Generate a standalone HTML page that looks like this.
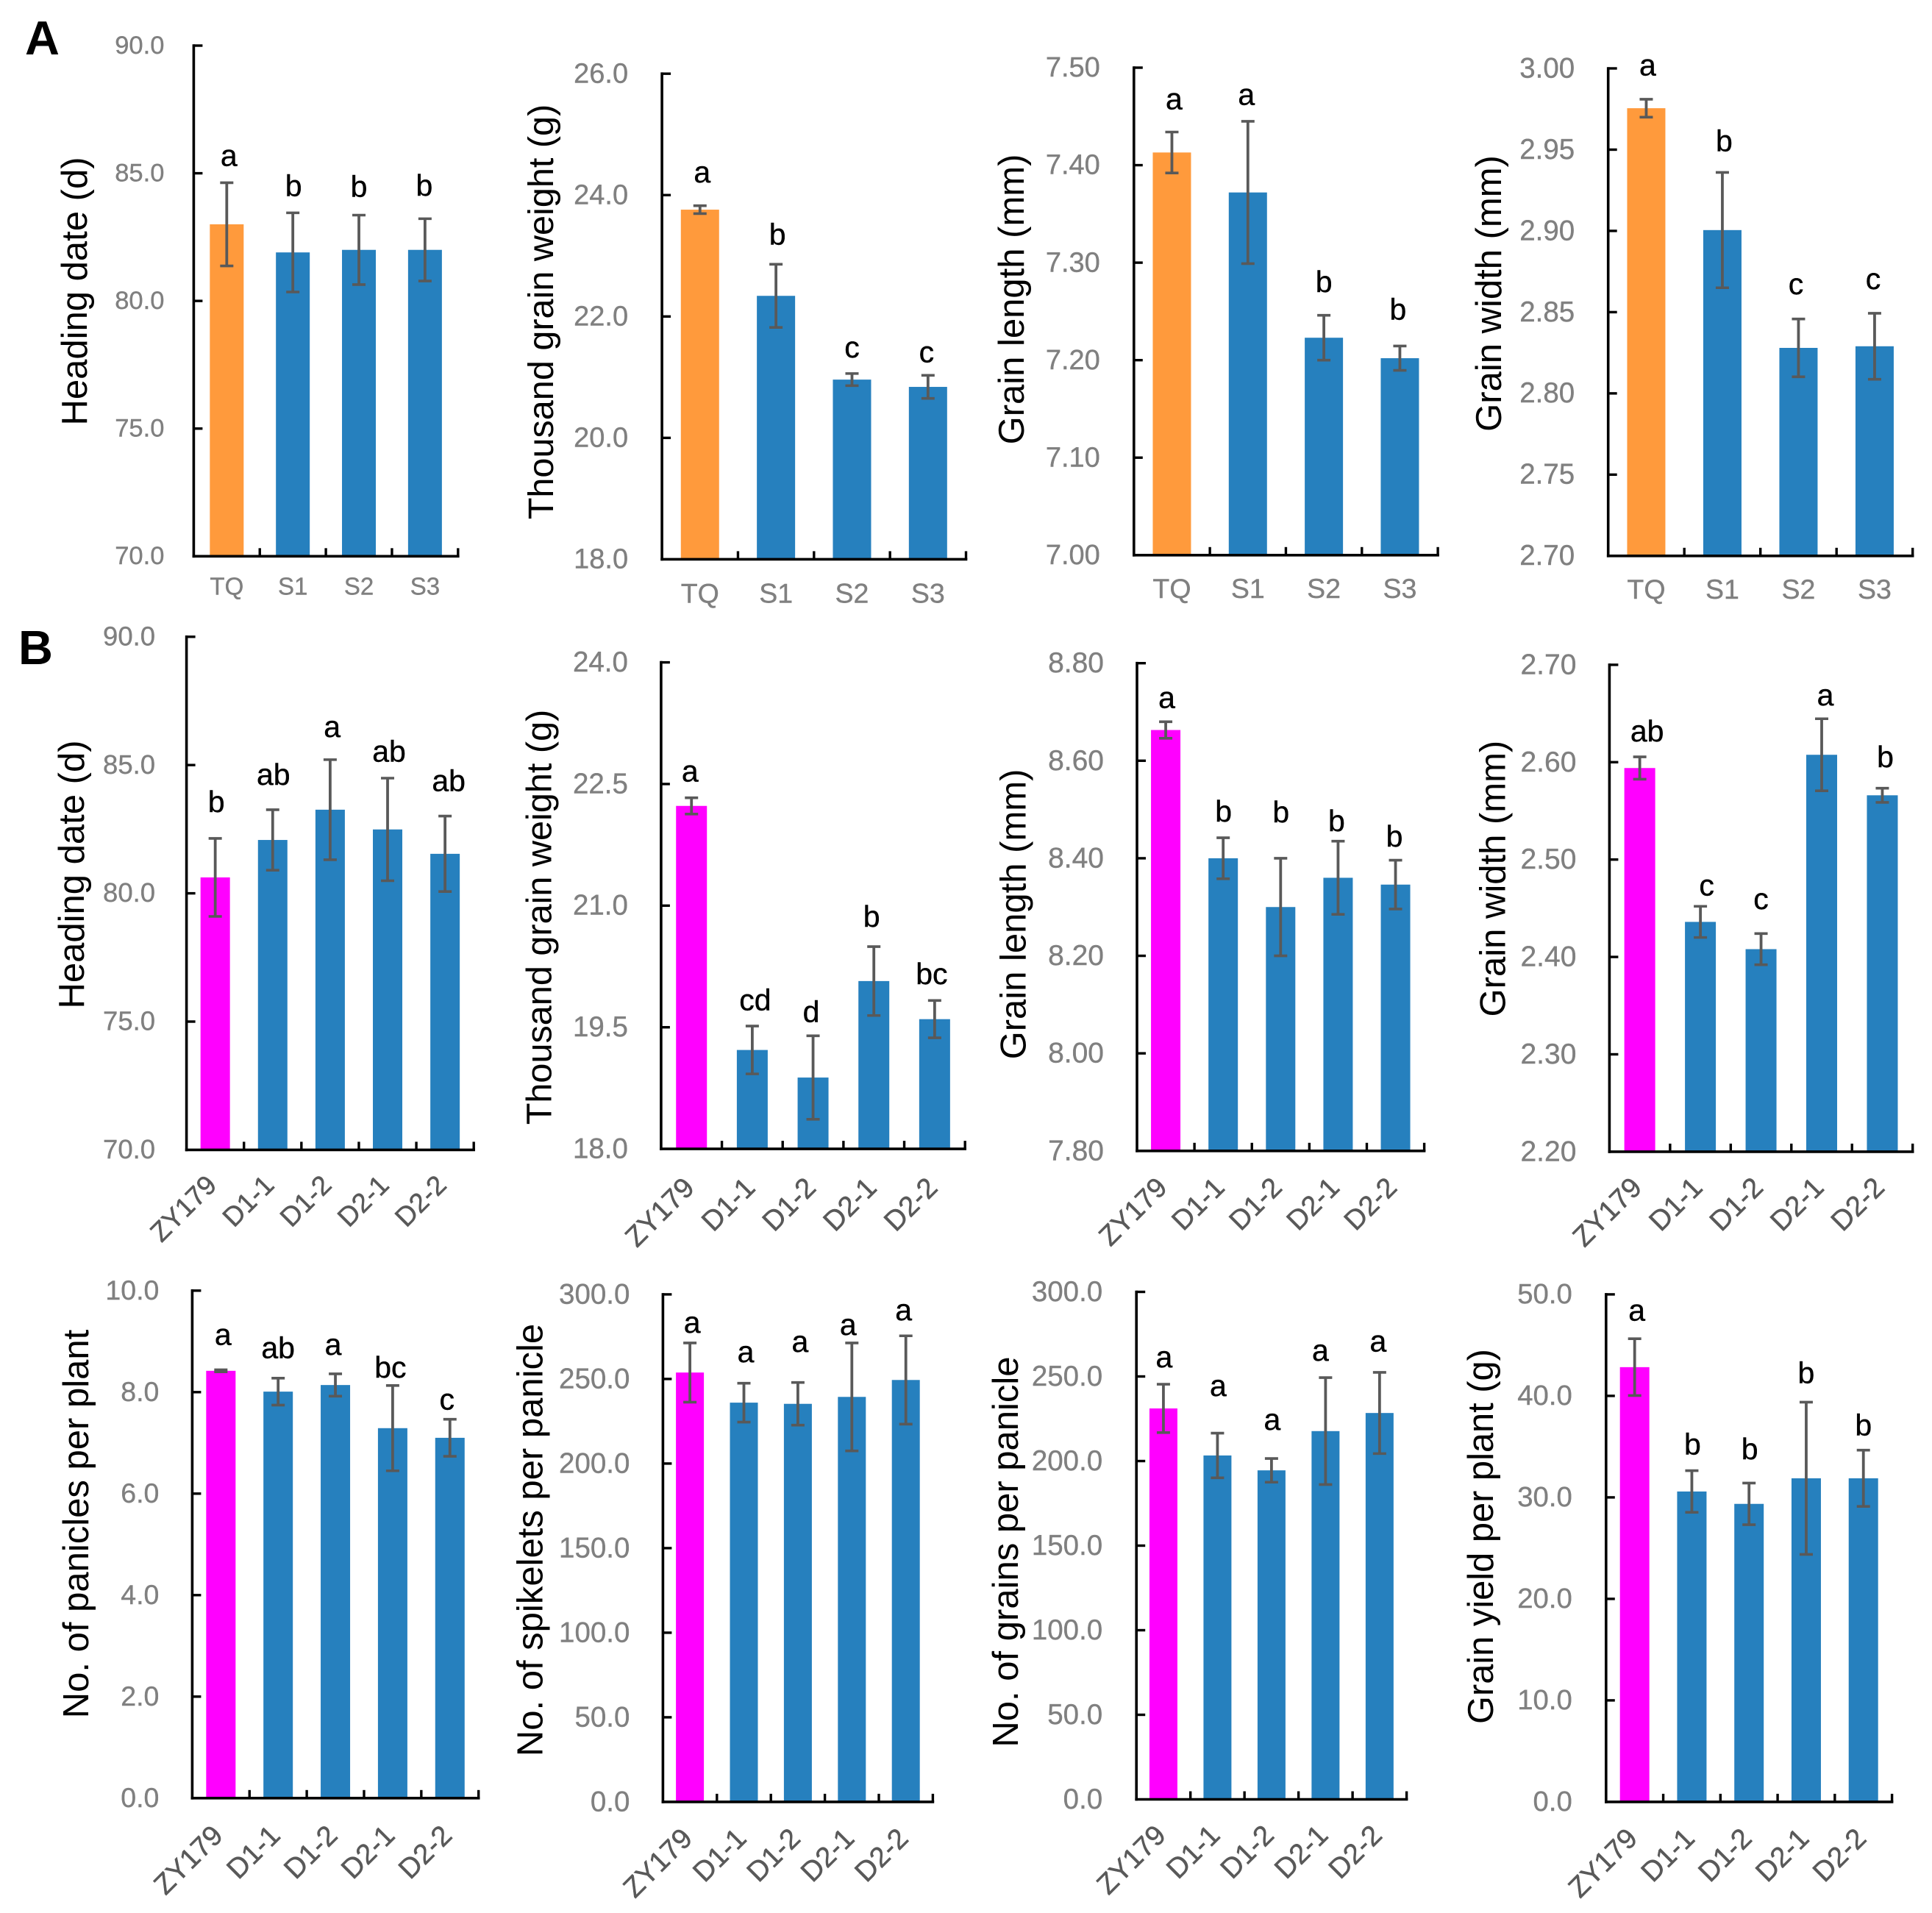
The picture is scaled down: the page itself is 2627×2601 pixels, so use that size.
<!DOCTYPE html>
<html lang="en">
<head>
<meta charset="utf-8">
<title>Heading date and grain traits bar charts</title>
<style>
  html, body { margin: 0; padding: 0; background: #fff; }
  svg { display: block; font-family: "Liberation Sans", Arial, sans-serif; }
</style>
</head>
<body>
<svg id="figure" xmlns="http://www.w3.org/2000/svg" width="2627" height="2601" viewBox="0 0 2627 2601">
  <rect x="0" y="0" width="2627" height="2601" fill="#ffffff"/>
  <text x="34" y="74" font-size="65" font-weight="700" fill="#000">A</text>
  <text x="25" y="903" font-size="65" font-weight="700" fill="#000">B</text>
</svg>
<script>
// ---------- categories ----------
const sampleCategories = ["TQ", "S1", "S2", "S3"];
const lineCategories = ["ZY179", "D1-1", "D1-2", "D2-1", "D2-2"];

// ---------- row A: heading date ----------
const aHeadingTicks = ["70.0", "75.0", "80.0", "85.0", "90.0"];
const aHeadingValues = [83.0, 81.9, 82.0, 82.0];
const aHeadingErrors = [1.63, 1.55, 1.36, 1.22];
const aHeadingLetters = ["a", "b", "b", "b"];

// ---------- row A: thousand grain weight ----------
const aWeightTicks = ["18.0", "20.0", "22.0", "24.0", "26.0"];
const aWeightValues = [23.76, 22.34, 20.96, 20.84];
const aWeightErrors = [0.065, 0.52, 0.10, 0.19];
const aWeightLetters = ["a", "b", "c", "c"];

// ---------- row A: grain length ----------
const aLengthTicks = ["7.00", "7.10", "7.20", "7.30", "7.40", "7.50"];
const aLengthValues = [7.413, 7.372, 7.223, 7.202];
const aLengthErrors = [0.021, 0.073, 0.023, 0.0125];
const aLengthLetters = ["a", "a", "b", "b"];

// ---------- row A: grain width ----------
const aWidthTicks = ["2.70", "2.75", "2.80", "2.85", "2.90", "2.95", "3.00"];
const aWidthValues = [2.9755, 2.9005, 2.828, 2.829];
const aWidthErrors = [0.0055, 0.0355, 0.0178, 0.0203];
const aWidthLetters = ["a", "b", "c", "c"];

// ---------- row B: heading date ----------
const bHeadingTicks = ["70.0", "75.0", "80.0", "85.0", "90.0"];
const bHeadingValues = [80.62, 82.08, 83.26, 82.49, 81.54];
const bHeadingErrors = [1.52, 1.18, 1.95, 2.0, 1.47];
const bHeadingLetters = ["b", "ab", "a", "ab", "ab"];

// ---------- row B: thousand grain weight ----------
const bWeightTicks = ["18.0", "19.5", "21.0", "22.5", "24.0"];
const bWeightValues = [22.23, 19.22, 18.88, 20.07, 19.6];
const bWeightErrors = [0.10, 0.295, 0.515, 0.425, 0.23];
const bWeightLetters = ["a", "cd", "d", "b", "bc"];

// ---------- row B: grain length ----------
const bLengthTicks = ["7.80", "8.00", "8.20", "8.40", "8.60", "8.80"];
const bLengthValues = [8.663, 8.40, 8.30, 8.36, 8.346];
const bLengthErrors = [0.017, 0.042, 0.10, 0.075, 0.05];
const bLengthLetters = ["a", "b", "b", "b", "b"];

// ---------- row B: grain width ----------
const bWidthTicks = ["2.20", "2.30", "2.40", "2.50", "2.60", "2.70"];
const bWidthValues = [2.594, 2.436, 2.408, 2.6076, 2.566];
const bWidthErrors = [0.0115, 0.016, 0.016, 0.037, 0.0073];
const bWidthLetters = ["ab", "c", "c", "a", "b"];

// ---------- row C: panicles per plant ----------
const cPaniclesTicks = ["0.0", "2.0", "4.0", "6.0", "8.0", "10.0"];
const cPaniclesValues = [8.42, 8.01, 8.14, 7.29, 7.10];
const cPaniclesErrors = [0.02, 0.265, 0.22, 0.84, 0.365];
const cPaniclesLetters = ["a", "ab", "a", "bc", "c"];

// ---------- row C: spikelets per panicle ----------
const cSpikeletsTicks = ["0.0", "50.0", "100.0", "150.0", "200.0", "250.0", "300.0"];
const cSpikeletsValues = [253.8, 236, 235.3, 239.4, 249.4];
const cSpikeletsErrors = [17.5, 11.5, 12.6, 31.9, 26.1];
const cSpikeletsLetters = ["a", "a", "a", "a", "a"];

// ---------- row C: grains per panicle ----------
const cGrainsTicks = ["0.0", "50.0", "100.0", "150.0", "200.0", "250.0", "300.0"];
const cGrainsValues = [231.1, 203.3, 194.5, 217.7, 228.4];
const cGrainsErrors = [14.3, 13.2, 7, 31.6, 24];
const cGrainsLetters = ["a", "a", "a", "a", "a"];

// ---------- row C: grain yield per plant ----------
const cYieldTicks = ["0.0", "10.0", "20.0", "30.0", "40.0", "50.0"];
const cYieldValues = [42.83, 30.58, 29.36, 31.88, 31.88];
const cYieldErrors = [2.8, 2.05, 2.05, 7.5, 2.77];
const cYieldLetters = ["a", "b", "b", "b", "b"];

const ORANGE = "#FF9A3C", MAGENTA = "#FF00FF", BLUE = "#2680BE";
const ERR = "#595959", TICK_GREY = "#808080", CAT_DARK = "#595959";
const NS = "http://www.w3.org/2000/svg";
const svg = document.getElementById("figure");

const panels = [
  { id: "a-heading-date", title: "Heading date (d)", titleFs: 49, cats: sampleCategories, ticks: aHeadingTicks, values: aHeadingValues, errors: aHeadingErrors, letters: aHeadingLetters, accent: ORANGE,
    x0: 263.4, xEnd: 622.8, yTop: 62, yBot: 756.3, barW: 46, tickFs: 34.5, tickGap: 40, titleX: 118, titleY: 396, catFs: 33, catDy: 52, lift: [23, 23, 25.2, 31.2], shift: [3, 1, 0, -1] },
  { id: "a-thousand-grain-weight", title: "Thousand grain weight (g)", titleFs: 48.6, cats: sampleCategories, ticks: aWeightTicks, values: aWeightValues, errors: aWeightErrors, letters: aWeightLetters, accent: ORANGE,
    x0: 900.1, xEnd: 1313.5, yTop: 100.2, yBot: 760.4, barW: 52, tickFs: 38, tickGap: 46, titleX: 752, titleY: 424, catFs: 37.5, catDy: 59, lift: [31.6, 27, 22, 18], shift: [3, 2, 0, -2] },
  { id: "a-grain-length", title: "Grain length (mm)", titleFs: 49, cats: sampleCategories, ticks: aLengthTicks, values: aLengthValues, errors: aLengthErrors, letters: aLengthLetters, accent: ORANGE,
    x0: 1541.8, xEnd: 1955.1, yTop: 92, yBot: 754.8, barW: 52, tickFs: 38, tickGap: 46, titleX: 1392, titleY: 407, catFs: 37.5, catDy: 58, lift: [31, 22.4, 31.6, 36], shift: [3, -2, 0, -2.5] },
  { id: "a-grain-width", title: "Grain width (mm)", titleFs: 49, cats: sampleCategories, ticks: aWidthTicks, values: aWidthValues, errors: aWidthErrors, letters: aWidthLetters, accent: ORANGE,
    x0: 2186.7, xEnd: 2600.7, yTop: 93, yBot: 755.8, barW: 52, tickFs: 38.5, tickGap: 45.5, titleX: 2041, titleY: 399, catFs: 37.5, catDy: 58, lift: [32.6, 29, 33.7, 33], shift: [2, 2.5, -3.4, -2] },
  { id: "b-heading-date", title: "Heading date (d)", titleFs: 49, cats: lineCategories, ticks: bHeadingTicks, values: bHeadingValues, errors: bHeadingErrors, letters: bHeadingLetters, accent: MAGENTA,
    x0: 253.6, xEnd: 644.2, yTop: 865.8, yBot: 1563.4, barW: 40, tickFs: 36.5, tickGap: 42.5, titleX: 113.8, titleY: 1189, catFs: 37, catDx: 4, catDy: 50, lift: [36, 34, 31, 22.4, 34], shift: [1.5, 1, 2.7, 2, 5] },
  { id: "b-thousand-grain-weight", title: "Thousand grain weight (g)", titleFs: 48.6, cats: lineCategories, ticks: bWeightTicks, values: bWeightValues, errors: bWeightErrors, letters: bWeightLetters, accent: MAGENTA,
    x0: 898.9, xEnd: 1312.2, yTop: 900.6, yBot: 1562.1, barW: 42, tickFs: 38.5, tickGap: 45, titleX: 749.4, titleY: 1247, catFs: 38.5, catDx: 6, catDy: 55, lift: [22, 21.4, 19, 27, 22.5], shift: [-2, 4, -2.5, -3, -4] },
  { id: "b-grain-length", title: "Grain length (mm)", titleFs: 49, cats: lineCategories, ticks: bLengthTicks, values: bLengthValues, errors: bLengthErrors, letters: bLengthLetters, accent: MAGENTA,
    x0: 1546, xEnd: 1936.6, yTop: 901.7, yBot: 1564.8, barW: 40, tickFs: 39, tickGap: 45, titleX: 1394.5, titleY: 1243, catFs: 38, catDx: 4, catDy: 52, lift: [19, 22, 49, 13.7, 18.6], shift: [1.5, 0.5, 0.5, -2, -1.5] },
  { id: "b-grain-width", title: "Grain width (mm)", titleFs: 49, cats: lineCategories, ticks: bWidthTicks, values: bWidthValues, errors: bWidthErrors, letters: bWidthLetters, accent: MAGENTA,
    x0: 2188.4, xEnd: 2600.7, yTop: 903.9, yBot: 1565.9, barW: 42, tickFs: 39, tickGap: 45, titleX: 2046.4, titleY: 1194.6, catFs: 38.5, catDx: 5, catDy: 51, lift: [21, 15, 33.5, 18, 28.5], shift: [10, 8.5, 0, 5, 4] },
  { id: "c-panicles-per-plant", title: "No. of panicles per plant", titleFs: 49, cats: lineCategories, ticks: cPaniclesTicks, values: cPaniclesValues, errors: cPaniclesErrors, letters: cPaniclesLetters, accent: MAGENTA,
    x0: 261.4, xEnd: 650.7, yTop: 1754.8, yBot: 2444.8, barW: 40, tickFs: 37.5, tickGap: 45, titleX: 120, titleY: 2072, catFs: 38.5, catDx: 5, catDy: 53, lift: [34, 27.5, 26, 10.7, 13], shift: [3, 0, -3, -3, -4] },
  { id: "c-spikelets-per-panicle", title: "No. of spikelets per panicle", titleFs: 49, cats: lineCategories, ticks: cSpikeletsTicks, values: cSpikeletsValues, errors: cSpikeletsErrors, letters: cSpikeletsLetters, accent: MAGENTA,
    x0: 901.4, xEnd: 1268.4, yTop: 1759.9, yBot: 2449.9, barW: 38, tickFs: 38.5, tickGap: 45, titleX: 737.7, titleY: 2094, catFs: 38.5, catDx: 5.5, catDy: 52, lift: [14, 28.7, 41.6, 11, 21.4], shift: [3, 2.5, 3, -5, -3] },
  { id: "c-grains-per-panicle", title: "No. of grains per panicle", titleFs: 49, cats: lineCategories, ticks: cGrainsTicks, values: cGrainsValues, errors: cGrainsErrors, letters: cGrainsLetters, accent: MAGENTA,
    x0: 1545.2, xEnd: 1912.6, yTop: 1756.5, yBot: 2446.5, barW: 38, tickFs: 38.5, tickGap: 46, titleX: 1384, titleY: 2110, catFs: 38.5, catDx: 5.5, catDy: 51, lift: [23, 50.6, 39, 23, 28.7], shift: [1, 1, 1, -7, -2] },
  { id: "c-grain-yield-per-plant", title: "Grain yield per plant (g)", titleFs: 48.8, cats: lineCategories, ticks: cYieldTicks, values: cYieldValues, errors: cYieldErrors, letters: cYieldLetters, accent: MAGENTA,
    x0: 2183.8, xEnd: 2572.6, yTop: 1759.9, yBot: 2449.9, barW: 40, tickFs: 38.3, tickGap: 46, titleX: 2030, titleY: 2089, catFs: 38.5, catDx: 6, catDy: 52, lift: [24.7, 22, 32.6, 26, 20], shift: [3, 1, 1, 0, 0] }
];

function make(tag, parent, attrs, text) {
  const el = document.createElementNS(NS, tag);
  for (const k in attrs) el.setAttribute(k, attrs[k]);
  if (text !== undefined) el.textContent = text;
  parent.appendChild(el);
  return el;
}

function line(parent, name, x1, y1, x2, y2, stroke, width) {
  const el = make("line", parent, { x1: x1, y1: y1, x2: x2, y2: y2, stroke: stroke, "stroke-width": width });
  
  
  return el;
}

function drawPanel(p) {
  const g = make("g", svg, {});
  
  

  const tickVals = p.ticks.map(parseFloat);
  const yMin = tickVals[0], yMax = tickVals[tickVals.length - 1];
  const yScale = v => p.yBot - (v - yMin) / (yMax - yMin) * (p.yBot - p.yTop);
  const n = p.cats.length;
  const band = (p.xEnd - p.x0) / n;
  const xCenter = i => p.x0 + (i + 0.5) * band;

  // bars
  p.values.forEach((v, i) => {
    const top = yScale(v);
    const bar = make("rect", g, {
      x: xCenter(i) - p.barW / 2, y: top, width: p.barW, height: p.yBot - top,
      fill: i === 0 ? p.accent : BLUE
    });
    
    
  });

  // error bars
  p.values.forEach((v, i) => {
    const hi = yScale(v + p.errors[i]);
    const lo = yScale(v - p.errors[i]);
    const cx = xCenter(i);
    line(g, p.id + '-error-stem-' + p.cats[i].toLowerCase(), cx, hi, cx, lo, ERR, 3.8);
    line(g, p.id + '-error-cap-upper-' + p.cats[i].toLowerCase(), cx - 9, hi, cx + 9, hi, ERR, 3.6);
    line(g, p.id + '-error-cap-lower-' + p.cats[i].toLowerCase(), cx - 9, lo, cx + 9, lo, ERR, 3.6);
  });

  // axes
  line(g, p.id + '-y-axis', p.x0, p.yTop - 1.8, p.x0, p.yBot + 1.8, "#000", 3.6);
  line(g, p.id + '-x-axis', p.x0 - 1.8, p.yBot, p.xEnd + 1.8, p.yBot, "#000", 3.6);

  // y ticks + labels
  p.ticks.forEach((label, i) => {
    const y = yScale(tickVals[i]);
    if (i > 0) line(g, p.id + '-y-tick-' + label, p.x0, y, p.x0 + 12, y, "#000", 3.4);
    const t = make("text", g, {
      x: p.x0 - p.tickGap, y: y + 0.36 * p.tickFs - 1.5,
      "text-anchor": "end", "font-size": p.tickFs, fill: TICK_GREY,
      stroke: TICK_GREY, "stroke-width": 0.4
    }, label);
    
    
  });

  // x ticks + category labels
  p.cats.forEach((cat, i) => {
    const xt = p.x0 + (i + 1) * band;
    line(g, p.id + '-x-tick-' + (i + 1), xt, p.yBot, xt, p.yBot - 11, "#000", 3.4);
    let t;
    if (p.catDx === undefined) {
      t = make("text", g, {
        x: xCenter(i), y: p.yBot + p.catDy, "text-anchor": "middle",
        "font-size": p.catFs, fill: TICK_GREY, stroke: TICK_GREY, "stroke-width": 0.4
      }, cat);
    } else {
      const ax = xCenter(i) + p.catDx, ay = p.yBot + p.catDy;
      t = make("text", g, {
        x: ax, y: ay, "text-anchor": "end", "font-size": p.catFs, fill: CAT_DARK,
        stroke: CAT_DARK, "stroke-width": 0.5,
        transform: "rotate(-45 " + ax + " " + ay + ")"
      }, cat);
    }
    
    
  });

  // significance letters
  p.letters.forEach((letter, i) => {
    const t = make("text", g, {
      x: xCenter(i) + p.shift[i], y: yScale(p.values[i] + p.errors[i]) - p.lift[i],
      "text-anchor": "middle", "font-size": 41, fill: "#000", stroke: "#000", "stroke-width": 0.4
    }, letter);
    
    
  });

  // y-axis title
  const title = make("text", g, {
    x: p.titleX, y: p.titleY, "text-anchor": "middle", "font-size": p.titleFs, fill: "#000",
    transform: "rotate(-90 " + p.titleX + " " + p.titleY + ")"
  }, p.title);
  
  
}

panels.forEach(drawPanel);
</script>
</body>
</html>
